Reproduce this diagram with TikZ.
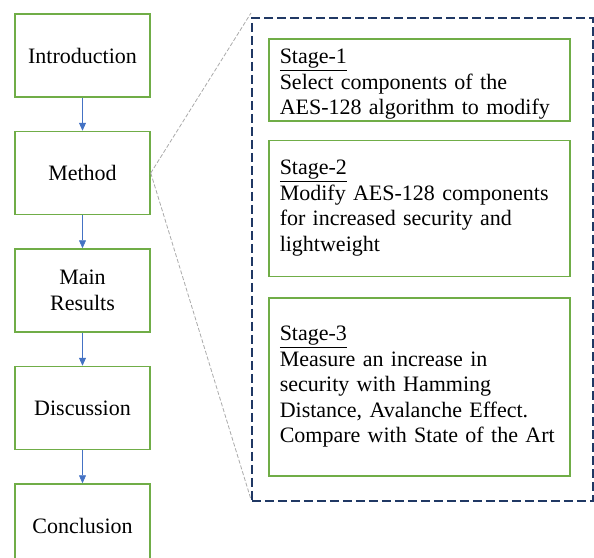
\documentclass[tikz,border=0pt]{standalone}
\usepackage{fontspec}
\setmainfont{Liberation Serif}
\usetikzlibrary{arrows.meta,positioning}
\definecolor{leafgreen}{RGB}{112,173,71}
\definecolor{navy}{RGB}{32,56,100}
\definecolor{linkblue}{RGB}{68,114,196}
\definecolor{zoomgray}{RGB}{170,170,170}

\begin{document}
\begin{tikzpicture}[x=1pt,y=1pt, node distance=33pt,
  every node/.style={font=\fontsize{22}{25.5}\selectfont},
  b/.style={draw=leafgreen,line width=1.5pt,minimum width=135pt,minimum height=83pt,align=center,inner sep=0pt},
  s/.style={draw=leafgreen,line width=1.5pt,text width=279pt,inner xsep=11pt,inner ysep=0pt,align=left,anchor=north west},
  a/.style={-{Triangle[length=8pt,width=7pt]},line width=0.8pt,draw=linkblue},
  zl/.style={draw=zoomgray,line width=0.8pt,dash pattern=on 4pt off 2pt}]
  \useasboundingbox (0,0) rectangle (594,-557);
  % paper outline, top to bottom
  \node[b] (intro) at (82.5,-55.5) {Introduction};
  \node[b,below=of intro] (method) {Method};
  \node[b,below=of method] (results) {Main\\Results};
  \node[b,below=of results] (disc) {Discussion};
  \node[b,below=of disc] (concl) {Conclusion};
  \foreach \u/\v in {intro/method,method/results,results/disc,disc/concl}
    \draw[a] (\u) -- (\v);
  % method stages
  \node[draw=navy,line width=1.5pt,dash pattern=on 9pt off 4pt,minimum width=341pt,minimum height=483pt,inner sep=0pt,anchor=north west] (detail) at (251,-17) {};
  \node[s,minimum height=82pt] (stage1) at (268,-38) {\rule{0pt}{24pt}\underline{Stage-1}\\Select components of the\\AES-128 algorithm to modify};
  \node[s,minimum height=136pt,below=18pt of stage1.south west,anchor=north west] (stage2) {\underline{Stage-2}\\Modify AES-128 components\\for increased security and\\lightweight};
  \node[s,minimum height=178pt,below=20pt of stage2.south west,anchor=north west] (stage3) {\underline{Stage-3}\\Measure an increase in\\security with Hamming\\Distance, Avalanche Effect.\\Compare with State of the Art};
  \draw[zl] (method.east) -- ([yshift=4pt]detail.north west);
  \draw[zl] (method.east) -- ([yshift=2pt]detail.south west);
\end{tikzpicture}
\end{document}
